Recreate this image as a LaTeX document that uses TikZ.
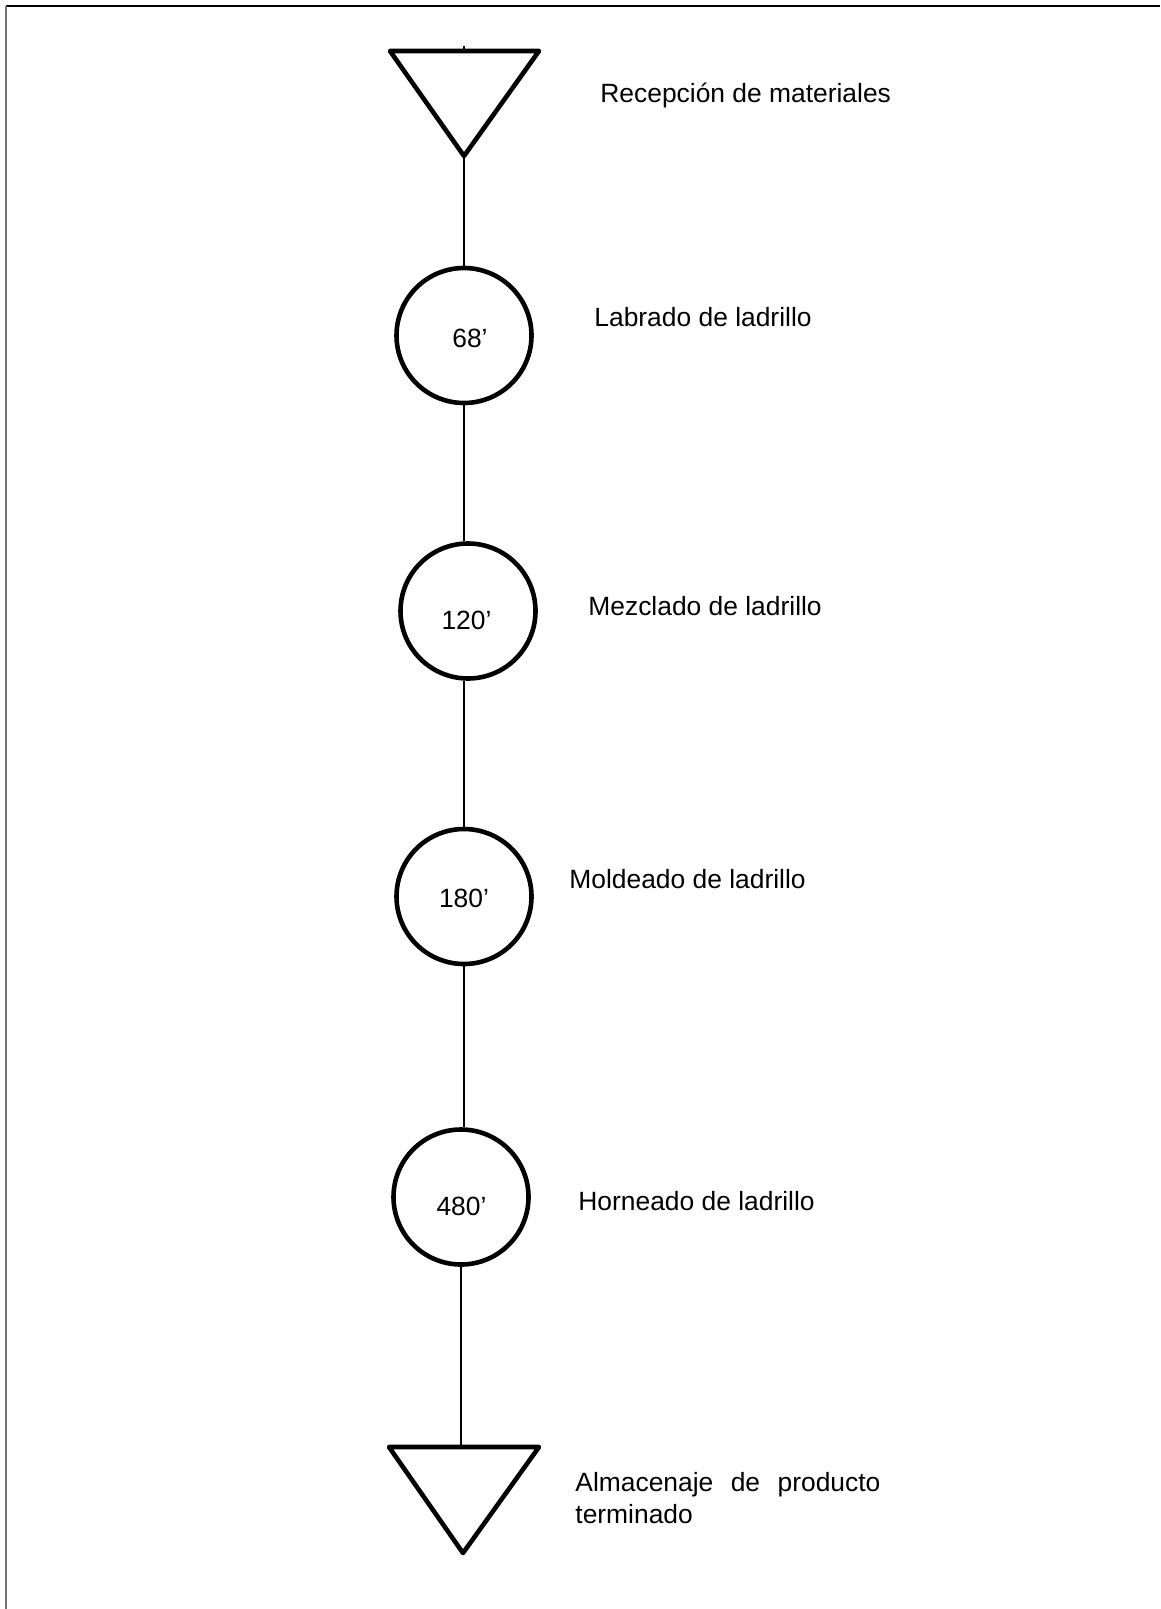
\documentclass[tikz,border=0pt]{standalone}
\usepackage{fontspec}
\setmainfont{Liberation Sans}
\begin{document}
\begin{tikzpicture}[x=0.5pt,y=-0.5pt,
  txt/.style={font=\fontsize{13.2pt}{16pt}\selectfont, inner sep=0pt, anchor=base west},
  num/.style={font=\fontsize{13.2pt}{16pt}\selectfont, inner sep=0pt, anchor=base},
  opbox/.style={circle, draw, line width=2.3pt, minimum size=67.5pt, inner sep=0pt},
  storesym/.style={draw, line width=2.3pt, line join=round},
  flow/.style={line width=0.7pt}]
\useasboundingbox (0,0) rectangle (1160,1609);

% page frame (top and left edges)
\draw[line width=1pt] (6,6) -- (1160,6);
\draw[line width=1pt, black!55] (6,6) -- (6,1609);

% storage symbols
\coordinate (tTop) at (464,51);
\coordinate (tA) at (464,156);
\draw[storesym] (390,51) -- (539,51) -- (tA) -- cycle;
\draw[flow] (tTop) -- ++(0,-5);

\coordinate (bTop) at (463,1447);
\coordinate (bA) at (463,1553);
\draw[storesym] (389,1447) -- (539,1447) -- (bA) -- cycle;

% operations
\node[opbox] (c1) at (464,335.5) {};
\node[opbox] (c2) at (468,611) {};
\node[opbox] (c3) at (464,896.5) {};
\node[opbox] (c4) at (461,1197) {};

% flow line
\draw[flow] (tA) -- (c1.north);
\draw[flow] (c1.south) -- (c1.south |- c2.north);
\draw[flow] (c2.south -| c3.north) -- (c3.north);
\draw[flow] (c3.south) -- (c3.south |- c4.north);
\draw[flow] (c4.south) -- (c4.south |- bTop);

% times
\node[num] (n1) at (470,348) {68’};
\node[num] (n2) at (466.5,629) {120’};
\node[num] (n3) at (464,907) {180’};
\node[num] (n4) at (461.5,1215) {480’};

% step descriptions
\node[txt] (l0) at (600,103) {Recepción de materiales};
\node[txt] (l1) at (594,327) {Labrado de ladrillo};
\node[txt] (l2) at (588,615) {Mezclado de ladrillo};
\node[txt] (l3) at (569,888) {Moldeado de ladrillo};
\node[txt] (l4) at (578,1210) {Horneado de ladrillo};
\node[txt] (l5) at (575,1491) {\parbox[t]{152.5pt}{\makebox[152.5pt][s]{Almacenaje de producto}\\terminado}};
\end{tikzpicture}
\end{document}
